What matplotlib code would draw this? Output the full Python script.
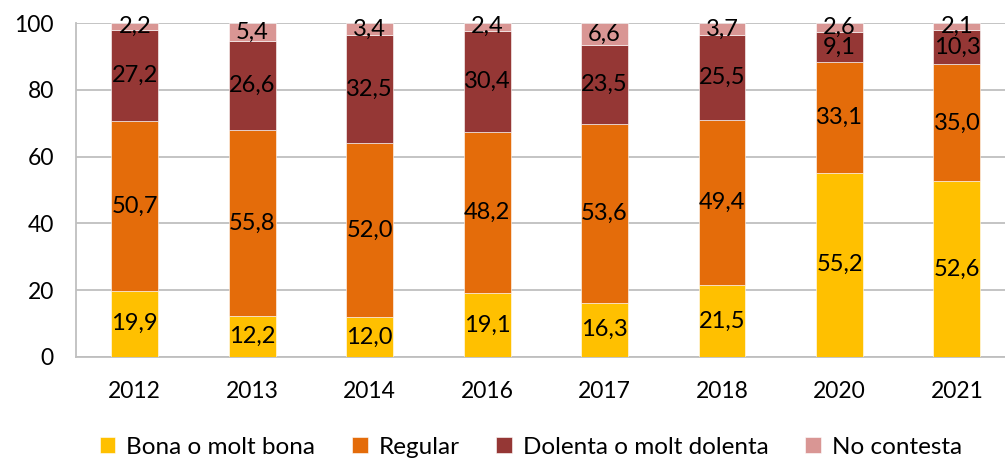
import numpy as np
import matplotlib.pyplot as plt

plt.rcParams['font.family'] = ['Lato', 'DejaVu Sans']

years = ['2012', '2013', '2014', '2016', '2017', '2018', '2020', '2021']
bona = [19.9, 12.2, 12.0, 19.1, 16.3, 21.5, 55.2, 52.6]
regular = [50.7, 55.8, 52.0, 48.2, 53.6, 49.4, 33.1, 35.0]
dolenta = [27.2, 26.6, 32.5, 30.4, 23.5, 25.5, 9.1, 10.3]
no_contesta = [2.2, 5.4, 3.4, 2.4, 6.6, 3.7, 2.6, 2.1]

series = [
    ('Bona o molt bona', bona, '#FFC000'),
    ('Regular', regular, '#E46C0A'),
    ('Dolenta o molt dolenta', dolenta, '#953735'),
    ('No contesta', no_contesta, '#D99694'),
]

fig = plt.figure(figsize=(10.05, 4.61), dpi=100)
ax = fig.add_axes([0.0756, 0.2256, 0.935, 0.7245])

x = np.arange(len(years))
bottom = np.zeros(len(years))
for name, vals, col in series:
    vals = np.array(vals)
    ax.bar(x, vals, 0.4, bottom=bottom, color=col, label=name,
           edgecolor='white', linewidth=0.4, zorder=3)
    for xi, b, v in zip(x, bottom, vals):
        ax.text(xi, b + v / 2, f'{v:.1f}'.replace('.', ','),
                ha='center', va='center', fontsize=17, color='black', zorder=4)
    bottom += vals

ax.set_xlim(-0.5, len(years) - 0.5)
ax.set_ylim(0, 100)
ax.set_yticks([0, 20, 40, 60, 80, 100])
ax.set_xticks(x)
ax.set_xticklabels(years)
ax.tick_params(axis='both', length=0, labelsize=16.5)
ax.tick_params(axis='y', pad=16)
ax.tick_params(axis='x', pad=17)
ax.grid(axis='y', color='#BFBFBF', linewidth=1.3, zorder=0)
for s in ['top', 'right']:
    ax.spines[s].set_visible(False)
for s in ['left', 'bottom']:
    ax.spines[s].set_color('#BFBFBF')
    ax.spines[s].set_linewidth(1.3)

fig.legend(loc='center', bbox_to_anchor=(0.528, 0.03), ncol=4, frameon=False,
           fontsize=17.5, handlelength=0.65, handleheight=0.65, handletextpad=0.45,
           columnspacing=1.5)

fig.savefig('out.png', dpi=100)
